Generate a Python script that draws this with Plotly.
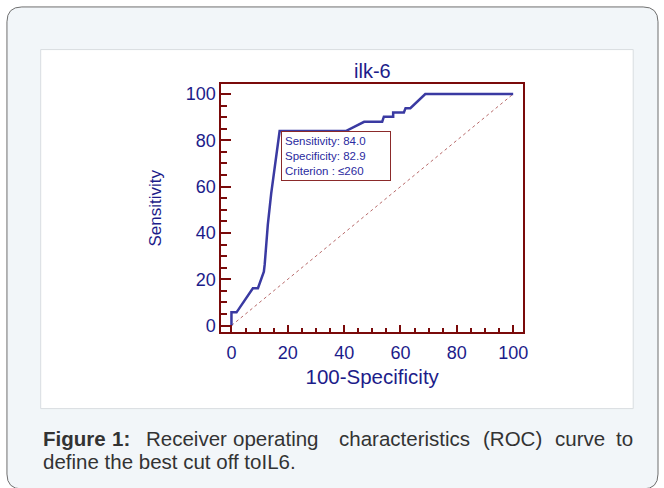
import plotly.graph_objects as go

# ROC curve data (100-Specificity, Sensitivity)
fpr = [0, 0, 1.8, 7.6, 9.4, 11.5, 11.8, 12.9, 14.1, 15.9, 17.1, 40.6, 47.1, 53.5, 54.1, 57.4, 57.4, 61.2, 61.8, 63.5, 68.8, 100]
sens = [0, 5.7, 5.7, 16.1, 16.1, 23.3, 26.4, 43.5, 57.0, 72.0, 84.0, 84.0, 88.0, 88.0, 90.2, 90.2, 92.0, 92.0, 93.9, 93.9, 100, 100]
diag_x = [0, 100]
diag_y = [0, 100]

title_text = "ilk-6"
x_title = "100-Specificity"
y_title = "Sensitivity"
box_lines = ["Sensitivity: 84.0", "Specificity: 82.9", "Criterion : ≤260"]
box_point = (17.1, 84.0)
tick_vals = [0, 20, 40, 60, 80, 100]

W, H = 664, 488
navy = "#1c1c8a"
frame = "#7a0a0a"
FONT = "Liberation Sans, Arial, sans-serif"

def px(x):
    return x / W

def py(y):
    return 1 - y / H

fig = go.Figure()
fig.add_trace(go.Scatter(x=diag_x, y=diag_y, mode="lines",
                         line=dict(color="#b76a6a", width=1, dash="3px,3px"),
                         hoverinfo="skip", showlegend=False))
fig.add_trace(go.Scatter(x=fpr, y=sens, mode="lines",
                         line=dict(color="#3a3aa2", width=2.5),
                         showlegend=False))

axis_common = dict(showgrid=False, zeroline=False, showline=True, mirror=True,
                   linecolor=frame, linewidth=2, ticks="inside", tickcolor=frame,
                   tickwidth=2, tickvals=tick_vals,
                   tickfont=dict(family=FONT, size=18, color=navy))

fig.update_xaxes(**axis_common, range=[-3.6, 103.5], ticklen=7, ticklabelstandoff=3,
                 domain=[px(223), px(527)],
                 minor=dict(dtick=5, tick0=0, ticks="inside", ticklen=4, tickcolor=frame, tickwidth=1.5),
                 title=dict(text=x_title, font=dict(family=FONT, size=20.5, color=navy), standoff=8))
fig.update_yaxes(**axis_common, range=[-2.9, 104.2], ticklen=10,
                 domain=[py(335), py(85)],
                 minor=dict(dtick=5, tick0=0, ticks="inside", ticklen=6, tickcolor=frame, tickwidth=1.5),
                 title=dict(text=y_title, font=dict(family=FONT, size=17, color=navy), standoff=20))

shapes = [
    # outer rounded card
    dict(type="path", xref="paper", yref="paper", layer="below",
         path=(f"M {px(7)},{py(22)} Q {px(7)},{py(7)} {px(22)},{py(7)} "
               f"L {px(648)},{py(7)} Q {px(663)},{py(7)} {px(663)},{py(22)} "
               f"L {px(663)},{py(478)} Q {px(663)},{py(493)} {px(648)},{py(493)} "
               f"L {px(22)},{py(493)} Q {px(7)},{py(493)} {px(7)},{py(478)} Z"),
         fillcolor="#f2f6f9", line=dict(color="#6f6f6f", width=1)),
    # white panel
    dict(type="rect", xref="paper", yref="paper", layer="below",
         x0=px(41), x1=px(638), y0=py(412), y1=py(50),
         fillcolor="white", line=dict(color="#d8dde0", width=1)),
]

annotations = [
    dict(text=title_text, xref="paper", yref="paper", x=px(375), y=py(72),
         showarrow=False, font=dict(family=FONT, size=20, color=navy),
         xanchor="center", yanchor="middle"),
    dict(text="<br>".join(box_lines), x=box_point[0], y=box_point[1], xref="x", yref="y",
         showarrow=False, xanchor="left", yanchor="top", align="left",
         xshift=1, yshift=0, width=102,
         font=dict(family=FONT, size=11.5, color="#2a2aa0"),
         bgcolor="white", bordercolor="#8b2a2a", borderwidth=1, borderpad=3),
]

cap_color = "#333333"
line1 = [("<b>Figure</b>", 41), ("<b>1:</b>", 111), ("Receiver", 145), ("operating", 233),
         ("characteristics", 340), ("(ROC)", 485), ("curve", 557), ("to", 619)]
for txt, x in line1:
    annotations.append(dict(text=txt, xref="paper", yref="paper", x=px(x), y=py(442),
                            xanchor="left", yanchor="middle", showarrow=False,
                            font=dict(family=FONT, size=20.5, color=cap_color)))
annotations.append(dict(text="define the best cut off toIL6.", xref="paper", yref="paper",
                        x=px(41), y=py(465), xanchor="left", yanchor="middle", showarrow=False,
                        font=dict(family=FONT, size=20.5, color=cap_color)))

fig.update_layout(width=W, height=H, margin=dict(l=0, r=0, t=0, b=0),
                  paper_bgcolor="white", plot_bgcolor="white",
                  shapes=shapes, annotations=annotations, showlegend=False)

fig.write_html("out.html", config={"displayModeBar": False},
               post_script="document.body.style.margin='0';document.body.style.overflow='hidden';")
